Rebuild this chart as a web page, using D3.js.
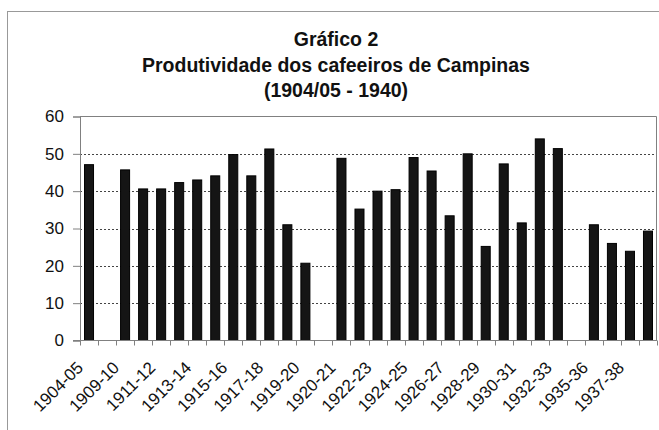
<!DOCTYPE html>
<html>
<head>
<meta charset="utf-8">
<script src="https://cdn.jsdelivr.net/npm/d3@7"></script>
<style>
    body { margin: 0; background: #fff; }
    svg { display: block; font-family: "Liberation Sans", Arial, sans-serif; }
</style>
</head>
<body>
<svg id="chart" width="659" height="430"></svg>
<script>
// safras (empty slots in the original sheet are kept as null)
const seasons = [
    "1904-05", "1905-06", "1909-10", "1910-11", "1911-12", "1912-13", "1913-14", "1914-15",
    "1915-16", "1916-17", "1917-18", "1918-19", "1919-20", "1920", "1920-21", "1921-22",
    "1922-23", "1923-24", "1924-25", "1925-26", "1926-27", "1927-28", "1928-29", "1929-30",
    "1930-31", "1931-32", "1932-33", "1933-34", "1935-36", "1936-37", "1937-38", "1940"
];
const productivity = [
    47.1, null, 45.7, 40.6, 40.6, 42.3, 43.0, 44.1,
    49.8, 44.1, 51.3, 31.0, 20.7, null, 48.8, 35.2,
    40.0, 40.4, 49.0, 45.4, 33.4, 50.0, 25.2, 47.3,
    31.5, 54.0, 51.4, null, 31.0, 26.0, 23.9, 29.3
];
const shownLabels = [
    "1904-05", "1909-10", "1911-12", "1913-14", "1915-16", "1917-18", "1919-20", "1920-21",
    "1922-23", "1924-25", "1926-27", "1928-29", "1930-31", "1932-33", "1935-36", "1937-38"
];
const yTicks = [0, 10, 20, 30, 40, 50, 60];
const titleLines = ["Gráfico 2", "Produtividade dos cafeeiros de Campinas", "(1904/05 - 1940)"];

const root = d3.select('#chart');

const MARGIN_LEFT = 80;
const MARGIN_RIGHT = 2;
const MARGIN_TOP = 116.5;
const PLOT_BOTTOM = 340.5;
const WIDTH = 659;

const GRID_COLOR = '#808080';
const FONT_SIZE = 17;

const x = d3.scaleBand()
    .domain(seasons)
    .range([MARGIN_LEFT, WIDTH - MARGIN_RIGHT])
    .paddingInner(0.5)
    .paddingOuter(0.25);

const y = d3.scaleLinear()
    .domain([0, 60])
    .range([PLOT_BOTTOM, MARGIN_TOP]);

drawFrame();
drawTitle();
drawGrid();
drawBars();
drawAxis();

function drawFrame() {
    // outer chart border, runs off the right and bottom of the picture
    root.append('rect')
        .attr('x', 7.5)
        .attr('y', 11.5)
        .attr('width', 700)
        .attr('height', 500)
        .attr('fill', 'none')
        .attr('stroke', '#999');
}

function drawTitle() {
    titleLines.forEach((line, i) => {
        root.append('text')
            .text(line)
            .attr('x', 336)
            .attr('y', 46 + i * 25.5)
            .attr('font-size', 19.5)
            .attr('font-weight', 'bold')
            .attr('fill', '#111')
            .attr('text-anchor', 'middle');
    });
}

function drawGrid() {
    const gridTicks = yTicks.filter(d => d > 0 && d < 60);
    root.append('g')
        .selectAll('line')
        .data(gridTicks)
        .join('line')
        .attr('x1', MARGIN_LEFT)
        .attr('x2', WIDTH - MARGIN_RIGHT)
        .attr('y1', d => Math.round(y(d)) + 0.5)
        .attr('y2', d => Math.round(y(d)) + 0.5)
        .attr('stroke', '#444')
        .attr('stroke-dasharray', '2,2');

    // plot area border (top & right)
    root.append('path')
        .attr('d', `M${MARGIN_LEFT},${y(60)}H${WIDTH - MARGIN_RIGHT - 0.5}V${y(0)}`)
        .attr('fill', 'none')
        .attr('stroke', GRID_COLOR);
}

function drawBars() {
    const data = seasons.map((s, i) => ({ season: s, value: productivity[i] }))
        .filter(d => d.value !== null);

    root.append('g')
        .selectAll('rect')
        .data(data)
        .join('rect')
        .attr('x', d => x(d.season))
        .attr('y', d => y(d.value))
        .attr('width', x.bandwidth())
        .attr('height', d => y(0) - y(d.value))
        .attr('fill', '#151515')
        .attr('stroke', '#000')
        .attr('stroke-width', 1);
}

function drawAxis() {
    const yAxis = root.append('g')
        .attr('transform', `translate(${MARGIN_LEFT},0)`)
        .call(d3.axisLeft(y).tickValues(yTicks).tickSize(7).tickPadding(9));
    yAxis.select('.domain').attr('stroke', GRID_COLOR);
    yAxis.selectAll('.tick line').attr('stroke', GRID_COLOR);
    yAxis.selectAll('.tick text')
        .attr('font-size', FONT_SIZE)
        .attr('font-family', null)
        .attr('fill', '#111');

    // category boundaries get the small tick marks
    const half = x.step() * x.paddingInner() / 2;
    const bounds = seasons.map(s => x(s) - half).concat([WIDTH - MARGIN_RIGHT - 0.5]);

    const xAxis = root.append('g');
    xAxis.append('line')
        .attr('x1', MARGIN_LEFT - 7)
        .attr('x2', WIDTH - MARGIN_RIGHT)
        .attr('y1', y(0))
        .attr('y2', y(0))
        .attr('stroke', GRID_COLOR);
    xAxis.selectAll('line.tick')
        .data(bounds)
        .join('line')
        .attr('class', 'tick')
        .attr('x1', d => Math.round(d) + 0.5)
        .attr('x2', d => Math.round(d) + 0.5)
        .attr('y1', y(0))
        .attr('y2', y(0) + 5)
        .attr('stroke', GRID_COLOR);

    xAxis.selectAll('text')
        .data(shownLabels)
        .join('text')
        .text(d => d)
        .attr('transform', d => `translate(${x(d) + x.bandwidth() / 2 - 9},${y(0) + 24}) rotate(-45)`)
        .attr('font-size', FONT_SIZE)
        .attr('fill', '#111')
        .attr('text-anchor', 'end')
        .attr('dy', '0.35em');
}
</script>
</body>
</html>
